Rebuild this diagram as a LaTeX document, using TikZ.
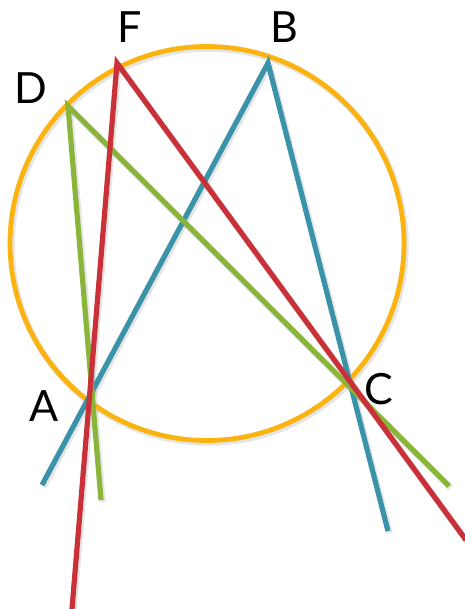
\documentclass[tikz,border=0pt]{standalone}
\usepackage{fontspec}
\setmainfont{Lato}
\definecolor{ringorange}{HTML}{FBB30F}
\definecolor{lblue}{HTML}{3A93A8}
\definecolor{lgreen}{HTML}{8AB43A}
\definecolor{lred}{HTML}{C93037}
\begin{document}
\begin{tikzpicture}[x=1pt,y=-1pt,
  seg/.style={line width=5.2pt,line cap=butt},
  shadowseg/.style={line width=6.5pt,draw=black,opacity=0.10,transform canvas={shift={(1.5pt,-2pt)}}},
  lbl/.style={font=\fontsize{43}{43}\selectfont,text=black,inner sep=0pt}]
\useasboundingbox (0,0) rectangle (464,609);
\coordinate (O) at (207,243.5);
\coordinate (F) at (117,63);
\coordinate (B) at (268,63);
\coordinate (D) at (68,106);
\coordinate (blueA) at (42,485);
\coordinate (blueC) at (388,531);
\coordinate (greenA) at (101,500);
\coordinate (greenC) at (449,486);
\coordinate (redA) at (72,609);
\coordinate (redC) at (466,540);
% shadows
\foreach \p/\q in {blueA/B,B/blueC,D/greenA,D/greenC,F/redA,F/redC}
  \draw[shadowseg] (\p) -- (\q);
\draw[shadowseg] (O) circle[radius=197];
% circle
\draw[ringorange,line width=4.8pt] (O) circle[radius=197];
% lines
\draw[seg,lblue] (blueA) -- (B) -- (blueC);
\draw[seg,lgreen] (greenA) -- (D) -- (greenC);
\draw[seg,lred] (redA) -- (F) -- (redC);
% labels
\node[lbl] (lF) at (130,27) {F};
\node[lbl] (lB) at (284,27) {B};
\node[lbl] (lD) at (31,88) {D};
\node[lbl] (lA) at (44,406) {A};
\node[lbl] (lC) at (379,389) {C};
\end{tikzpicture}
\end{document}
